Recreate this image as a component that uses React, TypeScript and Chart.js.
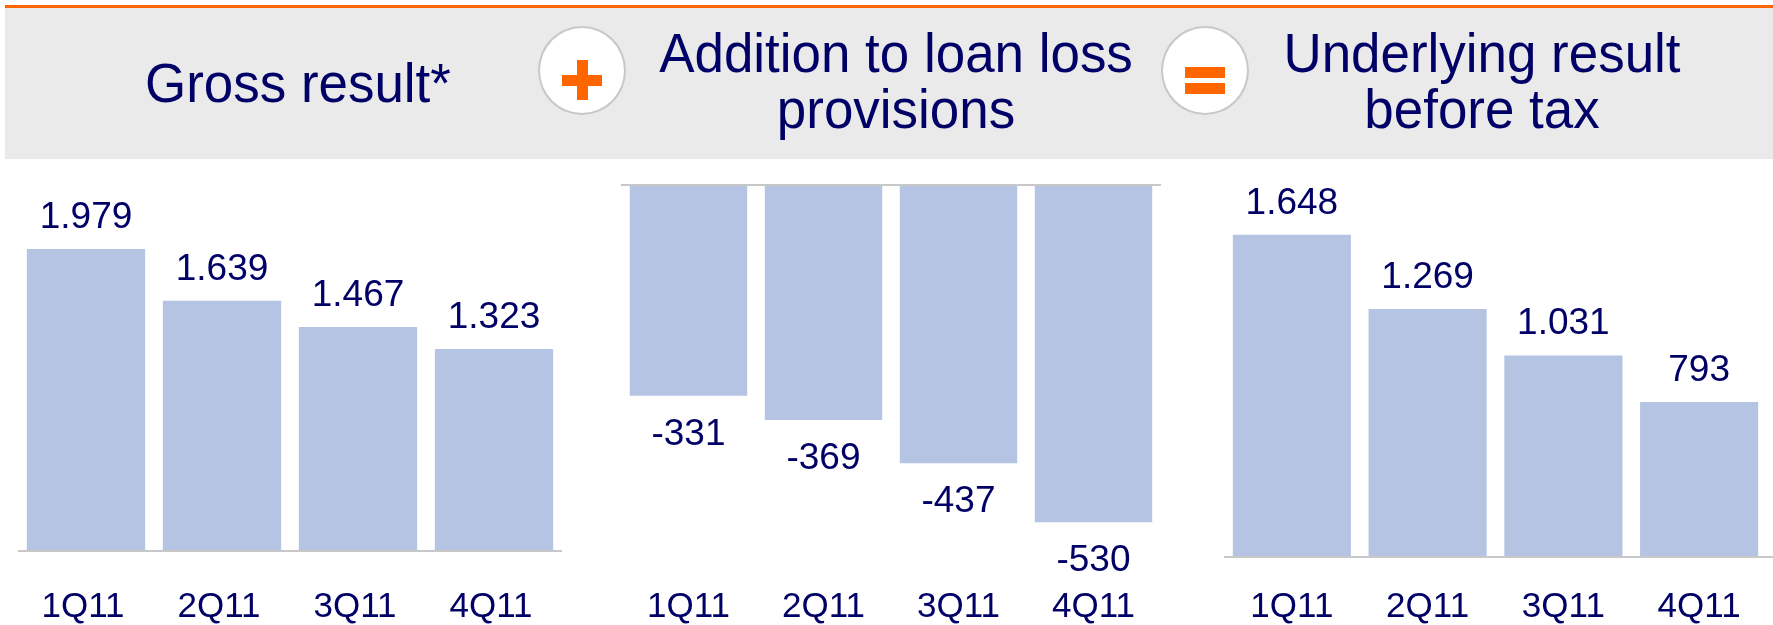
import React, { useEffect, useRef } from 'react';
import { Chart, registerables } from 'chart.js';

Chart.register(...registerables);

// ---- data ----
const categories = ['1Q11', '2Q11', '3Q11', '4Q11'];
const grossResult = [1979, 1639, 1467, 1323];
const loanLossProvisions = [-331, -369, -437, -530];
const underlyingResult = [1648, 1269, 1031, 793];
const titleGross = ['Gross result*'];
const titleLoan = ['Addition to loan loss', 'provisions'];
const titleUnderlying = ['Underlying result', 'before tax'];

// ---- styles ----
const NAVY = '#000066';
const ORANGE = '#FF6600';
const BAR = '#B4C4E2';
const AXIS = '#C8C8C8';
const BAND = '#EAEAEA';
const FONT = "'Liberation Sans', Arial, Helvetica, sans-serif";

function fmt(n: number): string {
  const s = Math.abs(n).toString().replace(/\B(?=(\d{3})+(?!\d))/g, '.');
  return (n < 0 ? '-' : '') + s;
}

const valueLabels = {
  id: 'valueLabels',
  afterDatasetsDraw(chart: any, _args: any, opts: any) {
    const { ctx, chartArea, scales } = chart;
    const y0 = scales.y.getPixelForValue(0);
    ctx.save();
    ctx.strokeStyle = AXIS;
    ctx.lineWidth = 2;
    ctx.beginPath();
    ctx.moveTo(chartArea.left, y0);
    ctx.lineTo(chartArea.right + (opts.extendRight || 0), y0);
    ctx.stroke();
    ctx.font = `37px ${FONT}`;
    ctx.fillStyle = NAVY;
    ctx.textAlign = 'center';
    ctx.textBaseline = 'alphabetic';
    const meta = chart.getDatasetMeta(0);
    const data = chart.data.datasets[0].data as number[];
    meta.data.forEach((bar: any, i: number) => {
      const v = data[i];
      const y = v >= 0 ? bar.y - 21 : bar.y + 49;
      ctx.fillText(fmt(v), bar.x, y);
    });
    ctx.restore();
  },
};

type PanelProps = {
  values: number[];
  min: number;
  max: number;
  left: number;
  width: number;
  padLeft: number;
  padRight: number;
  padTop: number;
  xHeight: number;
  tickPad: number;
  labelOffset: number;
  extendRight?: number;
};

const TOP = 160;
const HEIGHT = 465;

function BarPanel(p: PanelProps) {
  const ref = useRef<HTMLCanvasElement | null>(null);
  useEffect(() => {
    if (!ref.current) return;
    const chart = new Chart(ref.current, {
      type: 'bar',
      data: {
        labels: categories,
        datasets: [
          {
            data: p.values,
            backgroundColor: BAR,
            borderWidth: 0,
            barPercentage: 0.87,
            categoryPercentage: 1,
          },
        ],
      },
      options: {
        responsive: false,
        animation: false,
        devicePixelRatio: 1,
        layout: { padding: { left: p.padLeft, right: p.padRight, top: p.padTop, bottom: 0 } },
        plugins: {
          legend: { display: false },
          tooltip: { enabled: false },
          // @ts-ignore
          valueLabels: { extendRight: p.extendRight || 0 },
        },
        scales: {
          x: {
            grid: { display: false, drawTicks: false },
            border: { display: false },
            ticks: {
              color: NAVY,
              font: { family: FONT, size: 35 },
              padding: p.tickPad,
              labelOffset: p.labelOffset,
              maxRotation: 0,
              autoSkip: false,
            },
            afterFit: (s: any) => {
              s.height = p.xHeight;
            },
          },
          y: { display: false, min: p.min, max: p.max },
        },
      } as any,
      plugins: [valueLabels as any],
    });
    return () => chart.destroy();
  }, []);
  return (
    <canvas
      ref={ref}
      width={p.width}
      height={HEIGHT}
      style={{ position: 'absolute', left: p.left, top: TOP, width: p.width, height: HEIGHT }}
    />
  );
}

function Title({ lines, cx, top }: { lines: string[]; cx: number; top: number }) {
  return (
    <div
      style={{
        position: 'absolute',
        left: cx - 400,
        top,
        width: 800,
        textAlign: 'center',
        fontFamily: FONT,
        fontSize: 56,
        lineHeight: '56px',
        color: NAVY,
        whiteSpace: 'nowrap',
        transform: 'scaleX(0.945)',
        transformOrigin: 'center',
      }}
    >
      {lines.map((l, i) => (
        <div key={i}>{l}</div>
      ))}
    </div>
  );
}

function Circle({ cx }: { cx: number }) {
  return (
    <div
      style={{
        position: 'absolute',
        left: cx - 44,
        top: 26,
        width: 88,
        height: 89,
        borderRadius: '50%',
        background: '#FFFFFF',
        border: '2px solid ' + AXIS,
        boxSizing: 'border-box',
      }}
    />
  );
}

function Rect({ x, y, w, h }: { x: number; y: number; w: number; h: number }) {
  return <div style={{ position: 'absolute', left: x, top: y, width: w, height: h, background: ORANGE }} />;
}

export default function App() {
  return (
    <div
      style={{
        position: 'absolute',
        left: 0,
        top: 0,
        width: 1773,
        height: 625,
        overflow: 'hidden',
        background: '#FFFFFF',
      }}
    >
      <div style={{ position: 'absolute', left: 5, top: 5, width: 1768, height: 3, background: ORANGE }} />
      <div style={{ position: 'absolute', left: 5, top: 8, width: 1768, height: 151, background: BAND }} />
      <Circle cx={582} />
      <Rect x={562} y={74.5} w={40} h={11} />
      <Rect x={576.5} y={60} w={11} h={40} />
      <Circle cx={1205} />
      <Rect x={1185} y={67} w={40} h={11} />
      <Rect x={1185} y={83} w={40} h={11} />
      <Title lines={titleGross} cx={298} top={55} />
      <Title lines={titleLoan} cx={896} top={24.6} />
      <Title lines={titleUnderlying} cx={1482} top={24.6} />

      <BarPanel
        values={grossResult}
        min={0}
        max={2562}
        left={0}
        width={580}
        padLeft={18}
        padRight={18}
        padTop={0}
        xHeight={74}
        tickPad={35.4}
        labelOffset={-3}
      />
      <BarPanel
        values={loanLossProvisions}
        min={-575}
        max={0}
        left={580}
        width={600}
        padLeft={41}
        padRight={19}
        padTop={25}
        xHeight={74}
        tickPad={35.4}
        labelOffset={0}
      />
      <BarPanel
        values={underlyingResult}
        min={0}
        max={2031}
        left={1180}
        width={593}
        padLeft={44}
        padRight={6}
        padTop={0}
        xHeight={68}
        tickPad={29.4}
        labelOffset={0}
        extendRight={6}
      />
    </div>
  );
}
